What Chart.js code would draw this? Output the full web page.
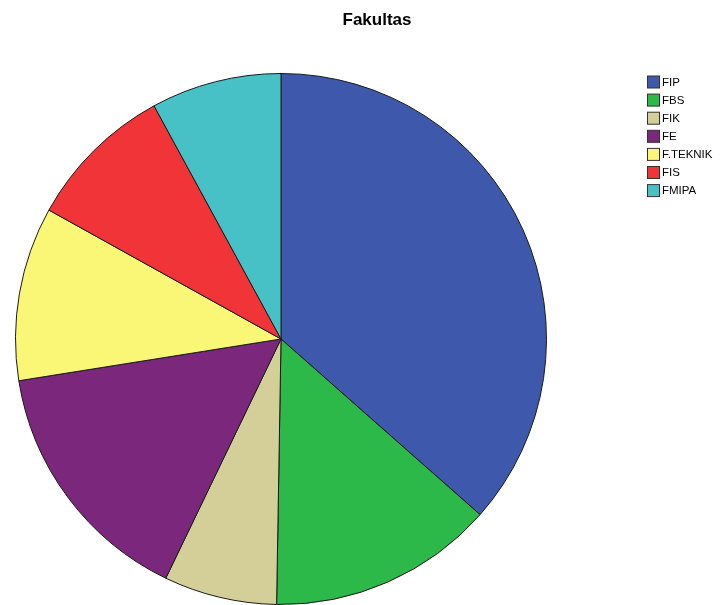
<!DOCTYPE html>
<html>
<head>
<meta charset="utf-8">
<script src="https://cdn.jsdelivr.net/npm/chart.js@4.4.0/dist/chart.umd.min.js"></script>
<style>
  html, body { margin: 0; padding: 0; background: #fff; }
  #wrap { width: 723px; height: 605px; position: relative; }
</style>
</head>
<body>
<div id="wrap"><canvas id="c" width="723" height="605"></canvas></div>
<script>
const chartTitle = 'Fakultas';
const categories = ['FIP', 'FBS', 'FIK', 'FE', 'F.TEKNIK', 'FIS', 'FMIPA'];
const counts = [69, 26, 13, 29, 20, 17, 15];
const sliceColors = ['#3e58ac', '#2db84a', '#d4cf98', '#7b287c', '#fbf776', '#f13438', '#47c1c6'];

// Title and side legend drawn onto the canvas
const decorations = {
  id: 'decorations',
  afterDraw(chart) {
    const ctx = chart.ctx;
    ctx.save();
    ctx.fillStyle = '#000';
    ctx.font = 'bold 17px "Liberation Sans", Arial, sans-serif';
    ctx.textAlign = 'center';
    ctx.textBaseline = 'middle';
    ctx.fillText(chartTitle, 377, 20);

    ctx.font = '11.5px "Liberation Sans", Arial, sans-serif';
    ctx.textAlign = 'left';
    const labels = chart.data.labels;
    const colors = chart.data.datasets[0].backgroundColor;
    labels.forEach((lab, i) => {
      const cy = 82 + i * 18.1;
      ctx.fillStyle = colors[i];
      ctx.fillRect(647.5, cy - 6, 12, 12);
      ctx.strokeStyle = '#333';
      ctx.lineWidth = 1;
      ctx.strokeRect(647.5, cy - 6, 12, 12);
      ctx.fillStyle = '#000';
      ctx.fillText(lab, 662, cy + 0.5);
    });
    ctx.restore();
  }
};

new Chart(document.getElementById('c'), {
  type: 'pie',
  data: {
    labels: categories,
    datasets: [{
      data: counts,
      backgroundColor: sliceColors,
      borderColor: '#1a1a1a',
      borderWidth: 1
    }]
  },
  options: {
    responsive: false,
    animation: false,
    layout: { padding: { left: 15, right: 176, top: 73, bottom: 0 } },
    plugins: {
      legend: { display: false },
      title: { display: false },
      tooltip: { enabled: false }
    }
  },
  plugins: [decorations]
});
</script>
</body>
</html>
